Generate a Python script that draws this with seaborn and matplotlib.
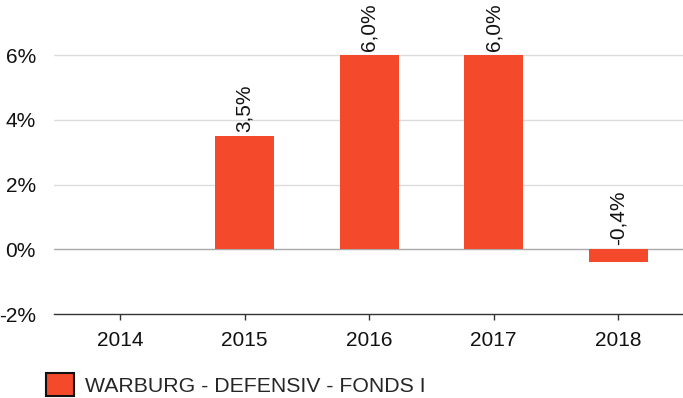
import numpy as np
import pandas as pd
import matplotlib
matplotlib.use("Agg")
import matplotlib.pyplot as plt
from matplotlib.patches import Patch
import seaborn as sns

years = ["2014", "2015", "2016", "2017", "2018"]
returns = [np.nan, 3.5, 6.0, 6.0, -0.4]
series_name = "WARBURG - DEFENSIV - FONDS I"
yticks = [-2, 0, 2, 4, 6]

bar_color = "#F4492B"

sns.set_theme(style="white")
plt.rcParams["font.family"] = ["Liberation Sans", "DejaVu Sans"]

df = pd.DataFrame({"Jahr": years, "Rendite": returns})

fig = plt.figure(figsize=(6.83, 3.98), dpi=100)
ax = fig.add_axes([54 / 683, (398 - 314) / 398, 1 - 54 / 683, 314 / 398])

sns.barplot(data=df, x="Jahr", y="Rendite", order=years, color=bar_color,
            width=0.475, saturation=1, linewidth=0, ax=ax, zorder=3)

ax.set_xlim(-0.53, 4.52)
ax.set_ylim(-2, 7.7)
ax.set_yticks(yticks)
ax.set_yticklabels([f"{t}%" for t in yticks])
ax.set_xlabel("")
ax.set_ylabel("")

# horizontal grid, zero line slightly stronger
for t in yticks[1:]:
    ax.axhline(t, color="#dcdcdc" if t != 0 else "#a8a8a8", lw=1, zorder=1)

for s in ["top", "right", "left"]:
    ax.spines[s].set_visible(False)
ax.spines["bottom"].set_color("#333333")
ax.spines["bottom"].set_linewidth(1)
ax.tick_params(axis="x", bottom=True, length=4, width=1, color="#333333",
               labelsize=15, pad=8, labelcolor="#111111")
ax.tick_params(axis="y", left=False, labelsize=15, pad=7, labelcolor="#111111")

# value labels above each bar
for i, v in enumerate(returns):
    if np.isnan(v):
        continue
    ax.annotate(f"{v:.1f}%".replace(".", ","), xy=(i, max(v, 0)),
                xytext=(0, 3), textcoords="offset points", rotation=90,
                ha="center", va="bottom", fontsize=15, color="#111111")

fig.legend(handles=[Patch(facecolor=bar_color, edgecolor="#111111", linewidth=1.5)],
           labels=[series_name], loc="upper left",
           bbox_to_anchor=(46 / 683, 1 - 373 / 398), frameon=False, fontsize=15.3,
           borderpad=0, borderaxespad=0,
           handlelength=1.3, handleheight=1.3, handletextpad=0.55)

fig.savefig("out.png", dpi=100)
